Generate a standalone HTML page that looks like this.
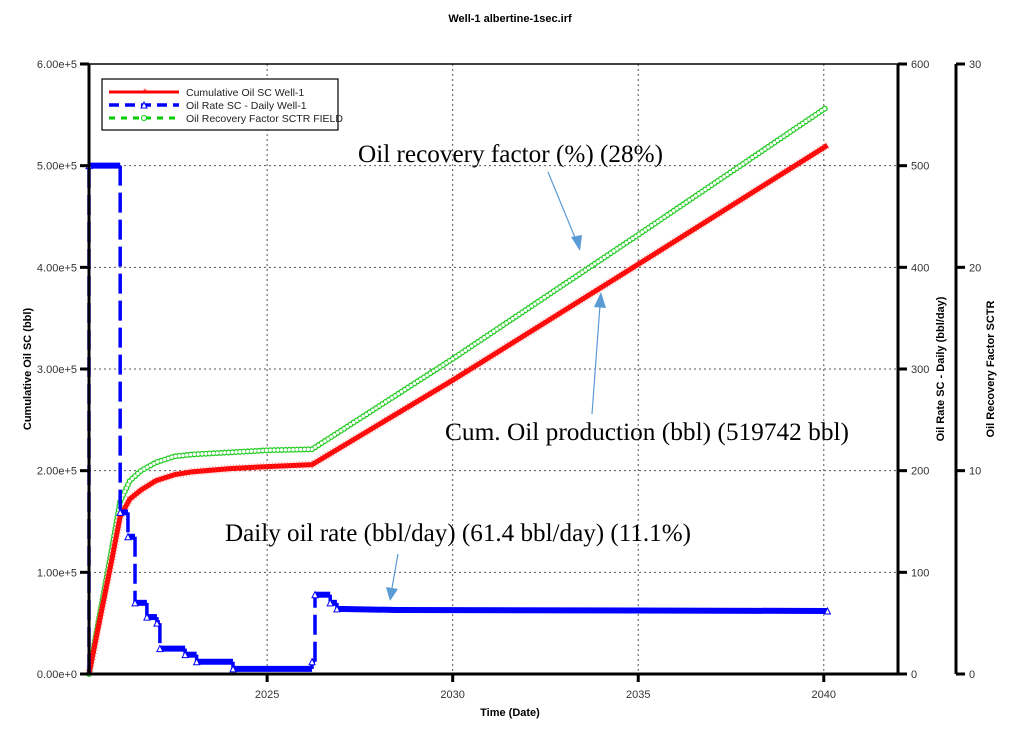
<!DOCTYPE html>
<html><head><meta charset="utf-8"><style>
body{margin:0;background:#fff;}
svg{display:block;font-family:"Liberation Sans",sans-serif;}
.tk{font-size:11px;fill:#333;}
.ax{font-size:11px;font-weight:bold;fill:#000;}
.ann{font-family:"Liberation Serif",serif;font-size:25px;fill:#000;}
</style></head><body>
<svg id="chart" width="1021" height="729" viewBox="0 0 1021 729">
<text x="510" y="22" text-anchor="middle" class="ax">Well-1 albertine-1sec.irf</text>
<g id="grid"></g>
<g id="series"></g>
<g id="axes"></g>
<text transform="translate(31,369) rotate(-90)" text-anchor="middle" class="ax">Cumulative Oil SC (bbl)</text>
<text transform="translate(944,369) rotate(-90)" text-anchor="middle" class="ax">Oil Rate SC - Daily (bbl/day)</text>
<text transform="translate(994,369) rotate(-90)" text-anchor="middle" class="ax">Oil Recovery Factor SCTR</text>
<text x="510" y="716" text-anchor="middle" class="ax">Time (Date)</text>
<g>
<rect x="102" y="79" width="236" height="51" fill="#fff" stroke="#000" stroke-width="1.2"/>
<g><line x1="109" y1="92" x2="179" y2="92" stroke="#f00" stroke-width="3"/><text x="145" y="95" font-size="9" fill="#f00" text-anchor="middle">*</text><text x="186" y="96" font-size="10.5" fill="#222">Cumulative Oil SC Well-1</text></g>
<g><line x1="109" y1="105" x2="179" y2="105" stroke="#00f" stroke-width="3.5" stroke-dasharray="10 6"/><path d="M141,108 L144,102 L147,108Z" fill="#fff" stroke="#00f" stroke-width="1"/><text x="186" y="109" font-size="10.5" fill="#222">Oil Rate SC - Daily Well-1</text></g>
<g><line x1="109" y1="118" x2="179" y2="118" stroke="#0c0" stroke-width="3" stroke-dasharray="6 6"/><circle cx="144" cy="118" r="2.5" fill="#fff" stroke="#0c0"/><text x="186" y="122" font-size="10.5" fill="#222">Oil Recovery Factor SCTR FIELD</text></g>
</g>
<g stroke="#5b9bd5" stroke-width="1.2">
<text x="358" y="162" class="ann" stroke="none" textLength="305" lengthAdjust="spacingAndGlyphs">Oil recovery factor (%) (28%)</text>
<line x1="548" y1="172" x2="576" y2="240"/><path d="M571,237 L580,251 L582,235Z" fill="#5b9bd5" stroke="none"/>
<text x="445" y="440" class="ann" stroke="none" textLength="404" lengthAdjust="spacingAndGlyphs">Cum. Oil production (bbl) (519742 bbl)</text>
<line x1="592" y1="414" x2="600" y2="305"/><path d="M594,307 L601,292 L606,308Z" fill="#5b9bd5" stroke="none"/>
<text x="225" y="541" class="ann" stroke="none" textLength="466" lengthAdjust="spacingAndGlyphs">Daily oil rate (bbl/day) (61.4 bbl/day) (11.1%)</text>
<line x1="398" y1="554" x2="392" y2="588"/><path d="M386,587 L390,601 L398,589Z" fill="#5b9bd5" stroke="none"/>
</g>
</svg>
<script>
const xTicks=[2025,2030,2035,2040];
const leftTicks=[0,100000,200000,300000,400000,500000,600000];
const leftTickLabels=["0.00e+0","1.00e+5","2.00e+5","3.00e+5","4.00e+5","5.00e+5","6.00e+5"];
const rateTicks=[0,100,200,300,400,500,600];
const rfTicks=[0,10,20,30];
const rateYears=[2020.2,2020.2,2021.04,2021.04,2021.25,2021.25,2021.44,2021.44,2021.76,2021.76,2022.03,2022.03,2022.11,2022.11,2022.79,2022.79,2023.1,2023.1,2024.08,2024.08,2026.21,2026.21,2026.29,2026.29,2026.7,2026.7,2026.88,2026.88,2028.5,2040.1];
const rateVals=[0,500,500,159,159,135,135,70,70,56,56,50,50,25,25,19,19,12,12,5,5,12,12,78,78,70,70,64,63,62];
const cumYears=[2020.2,2020.5,2020.8,2021.04,2021.3,2021.6,2022.0,2022.5,2023.0,2024.0,2025.0,2026.21,2030,2035,2040.1];
const cumVals=[0,55000,110000,155000,172000,181000,190000,196000,199000,202000,204000,206000,289000,403000,520000];
const rfYears=[2020.2,2020.5,2020.8,2021.04,2021.3,2021.6,2022.0,2022.5,2023.0,2024.0,2025.0,2026.21,2030,2035,2040.1];
const rfVals=[0,3.0,6.0,8.5,9.5,10.0,10.4,10.7,10.8,10.9,11.0,11.05,15.5,21.6,27.9];
const L=89,R=898,T=64,B=674,X0=2020.2,X1=2042;
const sx=v=>L+(v-X0)/(X1-X0)*(R-L);
const syL=v=>B-v/600000*(B-T);
const syR=v=>B-v/600*(B-T);
const syF=v=>B-v/30*(B-T);
const NS="http://www.w3.org/2000/svg";
function mk(tag,attrs,parent){const e=document.createElementNS(NS,tag);for(const k in attrs)e.setAttribute(k,attrs[k]);parent.appendChild(e);return e;}
const grid=document.getElementById('grid'),axes=document.getElementById('axes'),series=document.getElementById('series');
xTicks.forEach(t=>{const l=mk('line',{x1:sx(t),x2:sx(t),y1:T,y2:B,stroke:'#555','stroke-dasharray':'2 3'},grid);

});
leftTicks.slice(1,-1).forEach(t=>{const l=mk('line',{x1:L,x2:R,y1:syL(t),y2:syL(t),stroke:'#555','stroke-dasharray':'2 3'},grid);

});
mk('line',{x1:L,x2:R,y1:T,y2:T,stroke:'#000','stroke-width':1.5},axes);
mk('line',{x1:L,x2:R,y1:B,y2:B,stroke:'#000','stroke-width':3},axes);
mk('line',{x1:L,x2:L,y1:T,y2:B,stroke:'#000','stroke-width':3},axes);
mk('line',{x1:R,x2:R,y1:T,y2:B,stroke:'#000','stroke-width':3},axes);
mk('line',{x1:956,x2:956,y1:T,y2:B,stroke:'#000','stroke-width':3},axes);
xTicks.forEach(t=>{mk('line',{x1:sx(t),x2:sx(t),y1:B,y2:B+8,stroke:'#000','stroke-width':3},axes);
const tx=mk('text',{x:sx(t),y:B+24,'text-anchor':'middle',class:'tk'},axes);tx.textContent=t;

});
leftTicks.forEach((t,i)=>{mk('line',{x1:L-9,x2:L,y1:syL(t),y2:syL(t),stroke:'#000','stroke-width':3},axes);
const tx=mk('text',{x:L-12,y:syL(t)+4,'text-anchor':'end',class:'tk'},axes);tx.textContent=leftTickLabels[i];

});
rateTicks.forEach(t=>{mk('line',{x1:R,x2:R+9,y1:syR(t),y2:syR(t),stroke:'#000','stroke-width':3},axes);
const tx=mk('text',{x:R+13,y:syR(t)+4,class:'tk'},axes);tx.textContent=t;

});
rfTicks.forEach(t=>{mk('line',{x1:956,x2:965,y1:syF(t),y2:syF(t),stroke:'#000','stroke-width':3},axes);
const tx=mk('text',{x:969,y:syF(t)+4,class:'tk'},axes);tx.textContent=t;

});
function pts(xs,ys,fy){return xs.map((x,i)=>sx(x).toFixed(1)+','+fy(ys[i]).toFixed(1)).join(' ');}
const rp=pts(rfYears,rfVals,syF);
let e=mk('polyline',{points:rp,fill:'none',stroke:'#2c2','stroke-width':6,'stroke-dasharray':'0 3.8','stroke-linecap':'round'},series);


e=mk('polyline',{points:rp,fill:'none',stroke:'#fff','stroke-width':3.4,'stroke-dasharray':'0 3.8','stroke-linecap':'round'},series);


e=mk('polyline',{points:pts(cumYears,cumVals,syL),fill:'none',stroke:'#f00','stroke-width':5,'stroke-linejoin':'round'},series);


e=mk('polyline',{points:pts(cumYears,cumVals,syL),fill:'none',stroke:'#f44','stroke-width':8,'stroke-dasharray':'1 2',opacity:0.45},series);


// oil rate: horizontal runs solid/thick, vertical drops dashed
for(let i=0;i<rateYears.length-1;i++){
  const x1=sx(rateYears[i]),x2=sx(rateYears[i+1]),y1=syR(rateVals[i]),y2=syR(rateVals[i+1]);
  const vert=Math.abs(x2-x1)<0.5;
  const s=mk('line',{x1:x1,y1:y1,x2:x2,y2:y2,stroke:'#00f','stroke-width':vert?3.5:6,'stroke-dasharray':vert?'20 7':'none','stroke-linecap':'butt'},series);
  
  
}
rateYears.forEach((x,i)=>{if(i%2==1||i==rateYears.length-1){const px=sx(x),py=syR(rateVals[i]);
const m=mk('path',{d:`M${px-3},${py+3}L${px},${py-3}L${px+3},${py+3}Z`,fill:'#fff',stroke:'#00f','stroke-width':1},series);

}});
</script>
</body></html>
